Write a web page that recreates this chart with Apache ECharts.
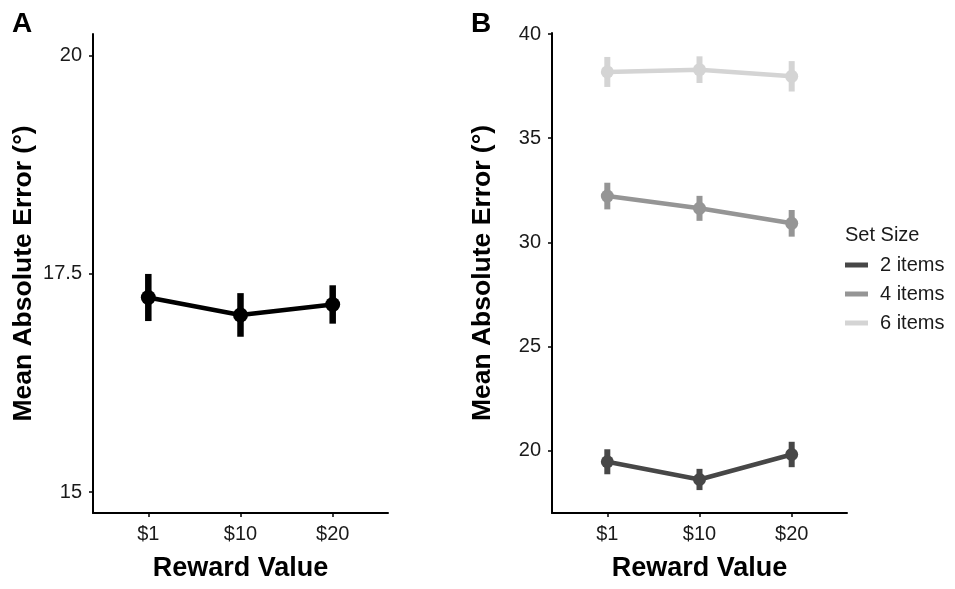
<!DOCTYPE html>
<html>
<head>
<meta charset="utf-8">
<script src="https://cdn.jsdelivr.net/npm/echarts@6/dist/echarts.min.js"></script>
<style>
  html, body { margin: 0; padding: 0; background: #fff; }
  #main { width: 955px; height: 589px; }
</style>
</head>
<body>
<div id="main"></div>
<script>
// 奖励档位（横轴）
const rewards = ['$1', '$10', '$20'];

// A 面板：总体平均误差与标准误
const meanA = [17.23, 17.03, 17.15];
const seA = [0.27, 0.25, 0.22];

// B 面板：按记忆负荷分组
const setSizes = ['2 items', '4 items', '6 items'];
const mean2 = [19.46, 18.61, 19.81];
const se2 = [0.60, 0.51, 0.61];
const mean4 = [32.22, 31.63, 30.91];
const se4 = [0.64, 0.60, 0.64];
const mean6 = [38.18, 38.29, 37.97];
const se6 = [0.72, 0.64, 0.73];

const ticksA = [15, 17.5, 20];
const ticksB = [20, 25, 30, 35, 40];

const greys = ['#474747', '#959595', '#d4d4d4'];
const FONT = '"Liberation Sans", Arial, sans-serif';

const chart = echarts.init(document.getElementById('main'), null, { renderer: 'canvas' });

function pointData(means) {
    return means.map((m, i) => [i + 1, m]);
}
function errData(means, ses) {
    return means.map((m, i) => [i + 1, m - ses[i], m + ses[i]]);
}

// 误差线用 custom series 画竖线
function errSeries(name, means, ses, color, axisIdx, width) {
    return {
        name: name,
        type: 'custom',
        xAxisIndex: axisIdx,
        yAxisIndex: axisIdx,
        silent: true,
        z: 3,
        encode: { x: 0, y: [1, 2] },
        renderItem: (params, api) => {
            const lo = api.coord([api.value(0), api.value(1)]);
            const hi = api.coord([api.value(0), api.value(2)]);
            return {
                type: 'line',
                shape: { x1: lo[0], y1: lo[1], x2: hi[0], y2: hi[1] },
                style: { stroke: color, lineWidth: width }
            };
        },
        data: errData(means, ses)
    };
}

function lineSeries(name, means, color, axisIdx, size) {
    return {
        name: name,
        type: 'line',
        xAxisIndex: axisIdx,
        yAxisIndex: axisIdx,
        z: 4,
        symbol: 'circle',
        symbolSize: size,
        itemStyle: { color: color },
        lineStyle: { color: color, width: 4.5 },
        emphasis: { disabled: true },
        data: pointData(means)
    };
}

function xAxisFor(gridIndex) {
    return {
        type: 'value', gridIndex: gridIndex, min: 0.4, max: 3.6,
        name: 'Reward Value', nameLocation: 'middle', nameGap: 42,
        nameTextStyle: { fontFamily: FONT, fontSize: 27, fontWeight: 'bold', color: '#000' },
        axisLine: { show: true, lineStyle: { color: '#000', width: 2 } },
        axisTick: { show: true, length: 4, customValues: [1, 2, 3], lineStyle: { color: '#000', width: 1.5 } },
        axisLabel: {
            customValues: [1, 2, 3], margin: 11,
            fontFamily: FONT, fontSize: 20, color: '#1a1a1a',
            formatter: v => rewards[Math.round(v) - 1]
        },
        splitLine: { show: false }
    };
}

function yAxisFor(gridIndex, min, max, ticks) {
    return {
        type: 'value', gridIndex: gridIndex, min: min, max: max,
        name: 'Mean Absolute Error (°)', nameLocation: 'middle', nameGap: 56,
        nameTextStyle: { fontFamily: FONT, fontSize: 26.5, fontWeight: 'bold', color: '#000' },
        axisLine: { show: true, lineStyle: { color: '#000', width: 2 } },
        axisTick: { show: true, length: 4, customValues: ticks, lineStyle: { color: '#000', width: 1.5 } },
        axisLabel: {
            customValues: ticks, margin: 11,
            fontFamily: FONT, fontSize: 20, color: '#1a1a1a'
        },
        splitLine: { show: false }
    };
}

const option = {
    backgroundColor: '#fff',
    animation: false,
    title: [
        { text: 'A', left: 7, top: 5, textStyle: { fontFamily: FONT, fontSize: 28, fontWeight: 'bold', color: '#000' } },
        { text: 'B', left: 466, top: 5, textStyle: { fontFamily: FONT, fontSize: 28, fontWeight: 'bold', color: '#000' } },
        { text: 'Set Size', left: 840, top: 220, textStyle: { fontFamily: FONT, fontSize: 20, fontWeight: 'normal', color: '#1a1a1a' } }
    ],
    legend: {
        data: setSizes,
        orient: 'vertical',
        left: 840,
        top: 250,
        icon: 'rect',
        itemWidth: 23,
        itemHeight: 5,
        itemGap: 9,
        selectedMode: false,
        textStyle: { fontFamily: FONT, fontSize: 20, color: '#1a1a1a', lineHeight: 20, padding: [0, 0, 0, 7] }
    },
    grid: [
        { left: 93, width: 295, top: 34, bottom: 76 },
        { left: 552, width: 295, top: 33, bottom: 76 }
    ],
    xAxis: [xAxisFor(0), xAxisFor(1)],
    yAxis: [yAxisFor(0, 14.76, 20.25, ticksA), yAxisFor(1, 17.0, 40.05, ticksB)],
    series: [
        errSeries('errA', meanA, seA, '#000', 0, 6.5),
        lineSeries('all', meanA, '#000', 0, 15),
        errSeries('err2', mean2, se2, greys[0], 1, 6),
        errSeries('err4', mean4, se4, greys[1], 1, 6),
        errSeries('err6', mean6, se6, greys[2], 1, 6),
        lineSeries(setSizes[0], mean2, greys[0], 1, 13),
        lineSeries(setSizes[1], mean4, greys[1], 1, 13),
        lineSeries(setSizes[2], mean6, greys[2], 1, 13)
    ]
};

chart.setOption(option);
</script>
</body>
</html>
